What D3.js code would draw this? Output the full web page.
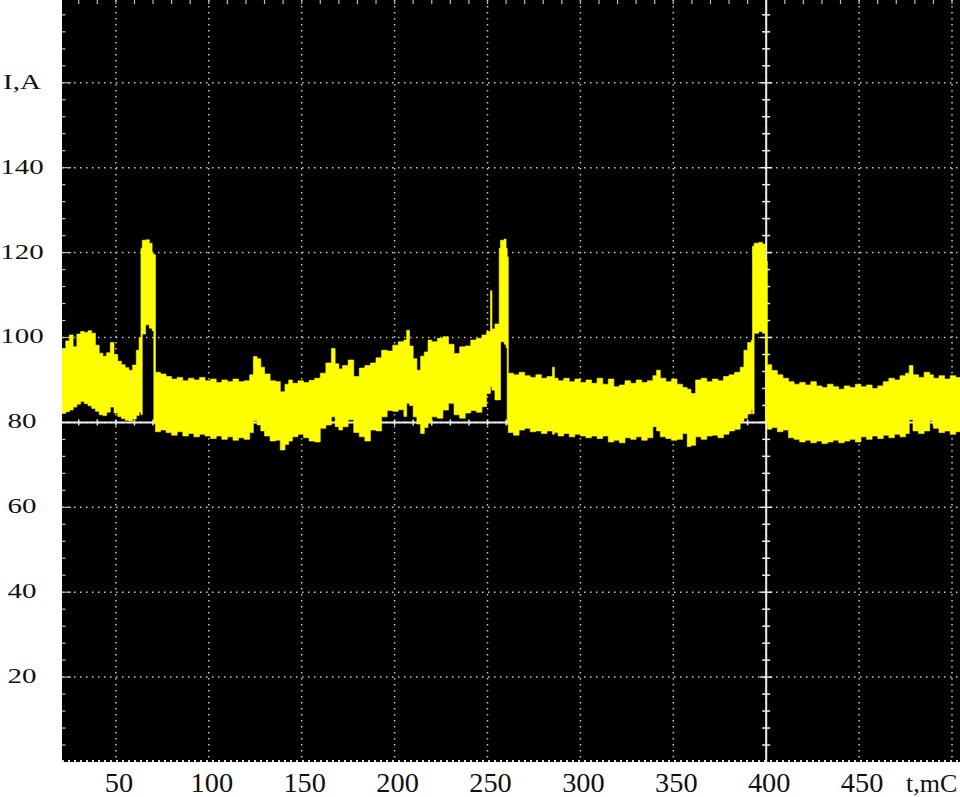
<!DOCTYPE html>
<html>
<head>
<meta charset="utf-8">
<script src="https://cdn.jsdelivr.net/npm/d3@7"></script>
<style>
  body { margin: 0; background: #fff; }
  svg { display: block; }
  text { font-family: "Liberation Serif", "Times New Roman", serif; fill: #111; }
</style>
</head>
<body>
<div id="chart"></div>
<script>

// oscilloscope trace (min / max current per time step)
const timeMs = [
  21, 23, 25, 27, 29, 31, 33, 35, 37, 39, 41, 43, 45, 47, 49, 51, 53, 55, 57, 59, 61, 62.5,
  63.5, 64.2, 66, 68, 69.5, 70.4,
  71.3, 74, 77, 80, 83, 86, 89, 92, 95, 98, 101, 104, 107, 110, 113, 116, 119, 122, 124, 126, 128, 130, 133, 136, 138.5, 141,
  143, 145, 148, 151, 154, 157, 160, 163, 166, 168, 170, 172, 175, 178, 181, 184, 187, 190, 193, 196,
  199, 202, 205, 206.5, 208, 210, 212, 214, 216, 218, 220, 223, 226, 229, 232, 235, 238, 241, 244, 247, 249.5, 251.6, 252.4, 254,
  256.3, 257, 259, 260, 260.6,
  261.2, 264, 267, 270, 273, 276, 279, 282, 285, 286, 288, 291, 294, 297, 300, 303, 306, 309, 312, 315,
  318, 321, 324, 327, 330, 333, 336, 339, 341, 343, 346, 349, 352, 355, 357.5, 359.5, 362, 365, 368, 371,
  374, 377, 380, 383, 386, 388, 390, 392,
  392.6, 393.5, 396, 398, 399.6,
  400.6, 403, 406, 409, 412, 415, 418, 421, 424, 427, 430, 433, 436, 439, 442, 445, 448, 451, 454, 457,
  460, 463, 466, 469, 472, 475, 477, 479, 482, 485, 488, 490, 493, 496, 499, 502, 505
]
const upperA = [
  97.4, 99.2, 100.6, 97.8, 100.8, 101.4, 101.2, 101.6, 101.0, 98.2, 96.3, 95.6, 96.4, 98.8, 96.0, 94.4, 93.6, 92.9, 92.3, 93.5, 97.0, 100.0,
  121.0, 122.9, 123.0, 122.2, 119.8, 119.5,
  91.8, 91.4, 90.8, 90.2, 90.6, 89.8, 90.4, 90.0, 90.6, 89.8, 90.2, 89.4, 90.0, 89.6, 90.2, 89.6, 89.8, 91.2, 95.5, 95.0, 93.0, 91.4, 89.8, 89.6, 87.2, 89.0,
  90.0, 89.2, 89.8, 89.4, 89.9, 90.4, 91.6, 94.0, 97.4, 93.8, 92.6, 93.4, 94.7, 90.8, 92.8, 93.4, 94.0, 95.2, 97.0, 96.8,
  98.2, 99.0, 99.4, 101.7, 98.0, 95.0, 92.3, 95.6, 96.6, 99.4, 99.0, 99.8, 100.2, 98.4, 96.2, 97.8, 98.0, 99.4, 99.8, 100.6, 101.4, 111.0, 102.0, 103.2,
  121.0, 122.9, 123.2, 121.0, 119.0,
  91.6, 91.2, 91.8, 91.0, 90.6, 91.2, 90.4, 90.8, 93.0, 90.4, 89.8, 90.4, 89.6, 90.2, 89.4, 90.0, 89.2, 90.4, 89.0, 90.2,
  88.4, 88.8, 89.8, 89.2, 90.0, 89.4, 89.8, 91.0, 92.3, 90.4, 89.6, 90.2, 89.0, 88.2, 87.8, 86.8, 90.0, 90.4, 89.6, 90.2,
  89.8, 90.8, 91.2, 91.8, 93.0, 97.0, 98.8, 99.4,
  121.5, 122.2, 122.4, 122.0, 118.0,
  93.6, 92.2, 91.2, 90.4, 89.6, 89.0, 89.4, 88.8, 89.6, 88.6, 88.2, 89.0, 88.4, 87.8, 88.6, 88.2, 89.0, 88.4, 88.8, 88.0,
  88.6, 89.6, 90.4, 90.0, 91.0, 91.6, 93.4, 91.2, 90.6, 91.8, 91.2, 90.4, 91.0, 90.2, 91.0, 90.6, 90.8
]
const lowerA = [
  82.1, 82.5, 82.9, 83.6, 84.3, 84.9, 84.4, 83.9, 83.3, 82.6, 81.8, 81.6, 82.4, 83.6, 82.2, 81.4, 80.9, 80.5, 80.3, 80.8, 81.6, 82.4,
  81.8, 100.8, 103.0, 102.2, 101.6, 79.8,
  77.8, 78.2, 77.6, 77.0, 77.8, 76.8, 77.4, 76.6, 77.2, 76.8, 76.2, 76.8, 76.0, 76.6, 75.8, 76.4, 76.0, 77.6, 80.4, 79.4, 78.0, 76.8, 75.6, 75.8, 73.5, 74.8,
  75.6, 76.6, 77.2, 76.4, 75.6, 75.4, 78.6, 79.4, 81.3, 79.0, 78.2, 79.0, 80.6, 77.6, 76.6, 75.6, 78.2, 78.0, 81.3, 82.8,
  82.6, 83.0, 81.4, 84.5, 84.0, 81.3, 79.6, 77.4, 78.8, 80.0, 81.3, 81.0, 82.9, 84.5, 81.8, 81.0, 82.2, 82.8, 82.4, 83.7, 86.8, 88.4, 87.6, 85.3,
  85.3, 99.0, 98.4, 97.6, 79.5,
  77.6, 77.0, 78.2, 78.6, 77.8, 78.0, 77.4, 78.0, 77.2, 77.6, 76.8, 77.4, 76.6, 77.2, 76.8, 76.4, 76.8, 76.2, 76.8, 75.4,
  75.8, 75.2, 76.4, 76.0, 76.6, 75.8, 76.4, 79.0, 78.0, 76.6, 76.2, 75.8, 76.0, 77.4, 74.3, 74.6, 76.6, 76.0, 76.8, 77.0,
  76.4, 77.2, 78.0, 78.4, 80.2, 81.0, 82.0, 83.0,
  82.0, 101.0, 101.4, 101.0, 80.0,
  78.4, 78.8, 77.8, 78.2, 76.4, 76.0, 75.4, 75.8, 75.2, 75.6, 75.0, 75.4, 75.8, 75.2, 75.6, 76.0, 75.4, 76.6, 76.0, 76.8,
  76.2, 77.0, 76.4, 77.2, 76.6, 77.4, 80.6, 78.0, 77.4, 78.0, 80.4, 78.6, 77.6, 78.0, 77.2, 77.8, 77.4
]

// axes
const xTickLabels = [50, 100, 150, 200, 250, 300, 350, 400, 450]
const yTickLabels = [20, 40, 60, 80, 100, 120, 140]
const xGrid = [50, 100, 150, 200, 250, 300, 350, 400, 450, 500]
const yGrid = [20, 40, 60, 80, 100, 120, 140, 160]
const xUnit = "t,mC"
const yUnit = "I,A"
const crossT = 400, crossI = 80

let width = 960
let height = 797

let x = d3.scaleLinear().domain([21, 504.3]).range([62, 960])
let y = d3.scaleLinear().domain([0, 179.5]).range([762, 0])

let svg = d3.select("#chart")
  .append("svg")
  .attr("width", width)
  .attr("height", height)

svg.append("rect")
  .attr("width", width)
  .attr("height", height)
  .attr("fill", "#fff")

svg.append("defs").append("clipPath")
  .attr("id", "plot")
  .append("rect")
  .attr("x", x.range()[0])
  .attr("y", 0)
  .attr("width", x.range()[1] - x.range()[0])
  .attr("height", y(0))

let plot = svg.append("g").attr("clip-path", "url(#plot)")

plot.append("rect")
  .attr("x", x.range()[0])
  .attr("y", 0)
  .attr("width", x.range()[1] - x.range()[0])
  .attr("height", y(0))
  .attr("fill", "#000")

// dotted grid
plot.selectAll(".hgrid")
  .data(yGrid)
  .enter().append("line")
  .attr("x1", x.range()[0])
  .attr("x2", x.range()[1])
  .attr("y1", d => y(d))
  .attr("y2", d => y(d))
  .attr("stroke", "#c8c8c8")
  .attr("stroke-width", 1.5)
  .attr("stroke-dasharray", "1.5 4.5")

plot.selectAll(".vgrid")
  .data(xGrid)
  .enter().append("line")
  .attr("x1", d => x(d))
  .attr("x2", d => x(d))
  .attr("y1", 0)
  .attr("y2", y(0))
  .attr("stroke", "#c8c8c8")
  .attr("stroke-width", 1.5)
  .attr("stroke-dasharray", "1.5 4.5")

// bottom edge
plot.append("line")
  .attr("x1", x.range()[0])
  .attr("x2", x.range()[1])
  .attr("y1", y(0) - 1)
  .attr("y2", y(0) - 1)
  .attr("stroke", "#ddd")
  .attr("stroke-width", 2)
  .attr("stroke-dasharray", "2 4")

// small ticks on left and top edges
let iSteps = d3.range(4, 180, 4)
let tSteps = d3.range(30, 510, 10)

plot.selectAll(".lt")
  .data(iSteps)
  .enter().append("line")
  .attr("x1", x.range()[0])
  .attr("x2", d => x.range()[0] + (d % 20 == 0 ? 9 : 3.5))
  .attr("y1", d => y(d))
  .attr("y2", d => y(d))
  .attr("stroke", "#bbb")
  .attr("stroke-width", 1.2)

plot.selectAll(".tt")
  .data(tSteps)
  .enter().append("line")
  .attr("x1", d => x(d))
  .attr("x2", d => x(d))
  .attr("y1", 0)
  .attr("y2", 4)
  .attr("stroke", "#bbb")
  .attr("stroke-width", 1.2)

// centre cross lines with ticks
plot.append("line")
  .attr("x1", x.range()[0])
  .attr("x2", x.range()[1])
  .attr("y1", y(crossI))
  .attr("y2", y(crossI))
  .attr("stroke", "#eee")
  .attr("stroke-width", 2)

plot.selectAll(".ct")
  .data(tSteps)
  .enter().append("line")
  .attr("x1", d => x(d))
  .attr("x2", d => x(d))
  .attr("y1", y(crossI) - 3)
  .attr("y2", y(crossI) + 3)
  .attr("stroke", "#eee")
  .attr("stroke-width", 1.5)

plot.append("line")
  .attr("x1", x(crossT))
  .attr("x2", x(crossT))
  .attr("y1", 0)
  .attr("y2", y(0))
  .attr("stroke", "#eee")
  .attr("stroke-width", 2)

plot.selectAll(".ci")
  .data(iSteps)
  .enter().append("line")
  .attr("x1", d => x(crossT) - (d % 20 == 0 ? 6 : 4))
  .attr("x2", d => x(crossT) + (d % 20 == 0 ? 6 : 4))
  .attr("y1", d => y(d))
  .attr("y2", d => y(d))
  .attr("stroke", "#eee")
  .attr("stroke-width", 1.5)

// the trace
let trace = timeMs.map((t, i) => ({ t: t, hi: upperA[i], lo: lowerA[i] }))

let area = d3.area()
  .x(d => x(d.t))
  .y0(d => y(d.lo))
  .y1(d => y(d.hi))
  .curve(d3.curveStepAfter)

plot.append("path")
  .datum(trace)
  .attr("d", area)
  .attr("fill", "#ffff00")
  .attr("stroke", "#ffff00")
  .attr("stroke-width", 0.6)

// labels
svg.selectAll(".ylab")
  .data(yTickLabels.map(String).concat([yUnit]))
  .enter().append("text")
  .attr("transform", (d, i) => {
    let v = i < yTickLabels.length ? yTickLabels[i] : 160
    return "translate(22," + (y(v) + 6) + ") scale(1.38,1)"
  })
  .attr("text-anchor", "middle")
  .style("font-size", "21px")
  .text(d => d)

svg.selectAll(".xlab")
  .data(xTickLabels)
  .enter().append("text")
  .attr("transform", d => "translate(" + (x(d) + 3) + ",792) scale(1.05,1)")
  .attr("text-anchor", "middle")
  .style("font-size", "27px")
  .text(d => d)

svg.append("text")
  .attr("x", x(500) - 46)
  .attr("y", 792)
  .style("font-size", "26px")
  .text(xUnit)

</script>
</body>
</html>
